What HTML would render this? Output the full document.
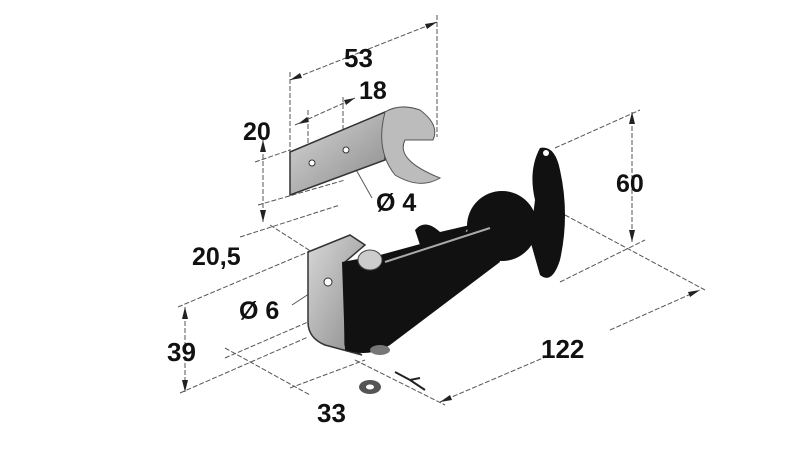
<!DOCTYPE html>
<html><head><style>
html,body{margin:0;padding:0;background:#fff;}
svg{display:block}
text{font-family:"Liberation Sans",sans-serif;font-weight:bold;fill:#111;}
</style></head><body>
<svg width="806" height="470" viewBox="0 0 806 470" xmlns="http://www.w3.org/2000/svg">
<defs>
<linearGradient id="g1" x1="0" y1="0" x2="1" y2="1"><stop offset="0" stop-color="#d8d8d8"/><stop offset="1" stop-color="#8a8a8a"/></linearGradient>
</defs>
<g stroke="#555" stroke-width="1" fill="none" stroke-dasharray="5,2">
<line x1="290" y1="80" x2="437" y2="22"/>
<line x1="290" y1="72" x2="290" y2="165"/>
<line x1="437" y1="15" x2="437" y2="137"/>
<line x1="295" y1="125" x2="355" y2="98"/>
<line x1="308" y1="110" x2="308" y2="150"/>
<line x1="343" y1="97" x2="343" y2="130"/>
<line x1="263" y1="140" x2="263" y2="222"/>
<line x1="255" y1="162" x2="290" y2="150"/>
<line x1="258" y1="205" x2="345" y2="180"/>
<line x1="240" y1="237" x2="340" y2="205"/>
<line x1="270" y1="225" x2="312" y2="252"/>
<line x1="632" y1="112" x2="632" y2="242"/>
<line x1="555" y1="148" x2="640" y2="110"/>
<line x1="560" y1="282" x2="645" y2="240"/>
<line x1="440" y1="402" x2="550" y2="355"/>
<line x1="610" y1="330" x2="700" y2="290"/>
<line x1="565" y1="215" x2="705" y2="290"/>
<line x1="355" y1="360" x2="445" y2="405"/>
<line x1="185" y1="307" x2="185" y2="392"/>
<line x1="178" y1="307" x2="308" y2="252"/>
<line x1="180" y1="393" x2="308" y2="337"/>
<line x1="225" y1="358" x2="308" y2="322"/>
<line x1="225" y1="348" x2="310" y2="395"/>
<line x1="290" y1="388" x2="365" y2="360"/>
<line x1="345" y1="150" x2="372" y2="198" stroke-dasharray="none"/>
<line x1="292" y1="305" x2="318" y2="288" stroke-dasharray="none"/>
</g>
<g fill="#222">
<polygon points="437,22 425,24 427,29"/>
<polygon points="290,80 302,78 300,73"/>
<polygon points="355,98 344,100 346,105"/>
<polygon points="298,124 309,122 307,117"/>
<polygon points="263,140 260,152 266,152"/>
<polygon points="263,222 260,210 266,210"/>
<polygon points="632,112 629,124 635,124"/>
<polygon points="632,242 629,230 635,230"/>
<polygon points="700,290 688,292 690,297"/>
<polygon points="440,402 452,400 450,395"/>
<polygon points="185,307 182,319 188,319"/>
<polygon points="185,392 182,380 188,380"/>
</g>
<polygon points="290,152 385,112 385,160 290,195" fill="url(#g1)" stroke="#333" stroke-width="1.5"/>
<circle cx="312" cy="163" r="3" fill="#fff" stroke="#333"/>
<circle cx="346" cy="150" r="3" fill="#fff" stroke="#333"/>
<path d="M385,112 Q400,103 420,110 Q440,125 433,140 L405,140 Q395,160 440,178 Q420,190 395,175 Q375,150 385,112Z" fill="#bcbcbc" stroke="#555"/>
<path d="M308,252 L350,235 L365,245 L345,262 L345,345 L362,355 L325,345 Q308,338 308,322 Z" fill="url(#g1)" stroke="#333" stroke-width="1.5"/>
<circle cx="328" cy="282" r="4" fill="#fff" stroke="#333"/>
<path d="M342,262 L380,255 L490,225 L500,262 L390,345 Q370,358 345,350 Z" fill="#111"/>
<path d="M415,230 Q425,218 440,232 L470,225 L460,240 L420,245Z" fill="#111"/>
<circle cx="502" cy="226" r="35" fill="#111"/>
<path d="M540,148 Q555,145 560,170 Q570,215 560,260 Q552,285 540,275 L530,240 L535,200 Q528,170 540,148Z" fill="#111"/>
<circle cx="546" cy="153" r="3" fill="#fff"/>
<line x1="385" y1="262" x2="490" y2="228" stroke="#aaa" stroke-width="2"/>
<ellipse cx="370" cy="260" rx="12" ry="10" fill="#ccc" stroke="#444"/>
<ellipse cx="380" cy="350" rx="10" ry="5" fill="#777"/>
<ellipse cx="370" cy="387" rx="11" ry="7" fill="#555"/>
<ellipse cx="370" cy="387" rx="4" ry="2.5" fill="#fff"/>
<path d="M395,372 L410,380 L420,378 M410,380 L425,390" stroke="#222" stroke-width="2" fill="none"/>
<text x="344" y="67" font-size="26">53</text>
<text x="359" y="99" font-size="25">18</text>
<text x="243" y="140" font-size="25">20</text>
<text x="376" y="211" font-size="25">Ø 4</text>
<text x="192" y="265" font-size="25">20,5</text>
<text x="239" y="319" font-size="25">Ø 6</text>
<text x="167" y="361" font-size="26">39</text>
<text x="317" y="422" font-size="26">33</text>
<text x="541" y="358" font-size="26">122</text>
<text x="616" y="192" font-size="25">60</text>
</svg>
</body></html>
